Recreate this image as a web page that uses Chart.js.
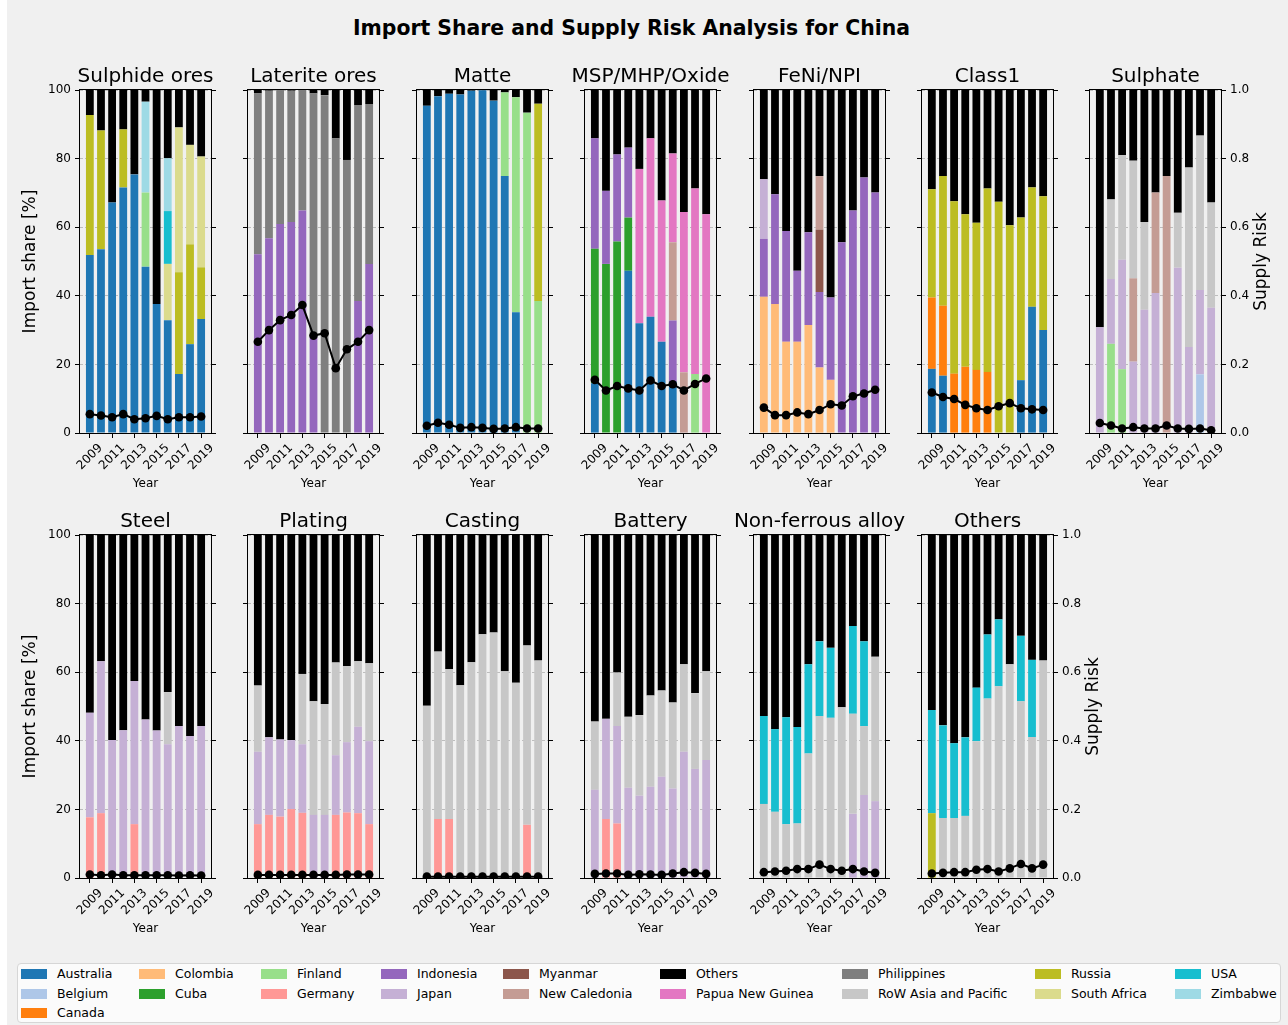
<!DOCTYPE html>
<html>
<head>
<meta charset="utf-8">
<script src="https://cdn.jsdelivr.net/npm/chart.js@4.4.1/dist/chart.umd.min.js"></script>
<style>
  html, body { margin: 0; padding: 0; background: #ffffff; }
  body { width: 1288px; height: 1025px; position: relative; overflow: hidden; font-family: "DejaVu Sans", sans-serif; }
  #figure { position: absolute; left: 7px; top: 0; width: 1281px; height: 1025px; background: #f0f0f0; }
  #suptitle { position: absolute; left: 0; width: 1263px; top: 16px; line-height: 24px; text-align: center;
              font-weight: bold; font-size: 20.4px; color: #000; }
  canvas.panel { position: absolute; }
  #legend { position: absolute; left: 17px; top: 963px; width: 1264px; height: 60px; box-sizing: border-box;
            background: #fbfbfb; border: 1px solid #d6d6d6; border-radius: 4px; }
  .item { position: absolute; height: 16px; line-height: 16px; font-size: 12.5px; color: #000; white-space: nowrap; }
  .swatch { position: absolute; left: 0; top: 3px; width: 26px; height: 10px; }
  .item span.t { position: absolute; left: 36px; top: 0; }
</style>
</head>
<body>
<div id="figure"></div>
<div id="suptitle">Import Share and Supply Risk Analysis for China</div>
<div id="legend"></div>

<script>
// ---- years and tick labels ----
const years = [2009, 2010, 2011, 2012, 2013, 2014, 2015, 2016, 2017, 2018, 2019];
const yearTicks = [2009, 2011, 2013, 2015, 2017, 2019];

// ---- supplier countries (stacking order) and colours ----
const countries = ['Australia', 'Belgium', 'Canada', 'Colombia', 'Cuba', 'Finland', 'Germany', 'Indonesia',
  'Japan', 'Myanmar', 'New Caledonia', 'Papua New Guinea', 'Philippines', 'RoW Asia and Pacific',
  'Russia', 'South Africa', 'USA', 'Zimbabwe', 'Others'];
const countryColors = ['#1f77b4', '#aec7e8', '#ff7f0e', '#ffbb78', '#2ca02c', '#98df8a', '#ff9896', '#9467bd',
  '#c5b0d5', '#8c564b', '#c49c94', '#e377c2', '#7f7f7f', '#c7c7c7',
  '#bcbd22', '#dbdb8d', '#17becf', '#9edae5', '#000000'];

// ---- import shares [%] per product, per supplier ----
const sulphideOresShares = {
  'Australia':    [51.9, 53.6, 67.2, 71.6, 75.4, 48.5, 37.6, 32.9, 17.2, 25.9, 33.2],
  'Finland':      [0, 0, 0, 0, 0, 21.6, 0, 0, 0, 0, 0],
  'Russia':       [40.8, 34.6, 0, 16.9, 0, 0, 0, 0, 29.7, 29.1, 15.1],
  'South Africa': [0, 0, 0, 0, 0, 0, 0, 16.4, 42.2, 29.0, 32.3],
  'USA':          [0, 0, 0, 0, 0, 0, 0, 15.4, 0, 0, 0],
  'Zimbabwe':     [0, 0, 0, 0, 0, 26.5, 0, 15.4, 0, 0, 0],
  'Others':       [7.3, 11.8, 32.8, 11.5, 24.6, 3.4, 62.4, 19.9, 10.9, 16.0, 19.4]
};
const sulphideOresRisk = [0.055, 0.051, 0.046, 0.055, 0.040, 0.043, 0.050, 0.040, 0.046, 0.046, 0.048];

const lateriteOresShares = {
  'Indonesia':    [52.1, 56.8, 60.9, 61.5, 64.9, 28.0, 0, 0, 0, 38.5, 49.3],
  'Philippines':  [46.9, 43.0, 39.1, 38.3, 35.1, 71.0, 98.5, 85.9, 79.6, 57.1, 46.6],
  'Others':       [1.0, 0.2, 0, 0.2, 0, 1.0, 1.5, 14.1, 20.4, 4.4, 4.1]
};
const lateriteOresRisk = [0.266, 0.300, 0.329, 0.344, 0.373, 0.284, 0.291, 0.189, 0.244, 0.266, 0.300];

const matteShares = {
  'Australia':    [95.4, 98.2, 98.9, 98.7, 99.8, 99.9, 96.9, 74.9, 35.2, 0, 0],
  'Finland':      [0, 0, 0, 0, 0, 0, 0, 24.4, 62.7, 93.4, 38.5],
  'Russia':       [0, 0, 0, 0, 0, 0, 0, 0, 0, 0, 57.5],
  'Others':       [4.6, 1.8, 1.1, 1.3, 0.2, 0.1, 3.1, 0.7, 2.1, 6.6, 4.0]
};
const matteRisk = [0.021, 0.030, 0.024, 0.015, 0.017, 0.015, 0.012, 0.013, 0.017, 0.013, 0.013];

const mspShares = {
  'Australia':        [14.5, 0, 0, 47.3, 32.0, 33.9, 26.6, 15.0, 0, 0, 0],
  'Cuba':             [39.2, 49.3, 55.8, 15.5, 0, 0, 0, 0, 0, 0, 0],
  'Finland':          [0, 0, 0, 0, 0, 0, 0, 0, 0, 17.2, 0],
  'Indonesia':        [32.2, 21.3, 25.4, 20.4, 0, 0, 0, 17.8, 0, 0, 0],
  'New Caledonia':    [0, 0, 0, 0, 0, 0, 0, 22.8, 17.7, 0, 0],
  'Papua New Guinea': [0, 0, 0, 0, 45.0, 52.0, 41.2, 25.9, 46.7, 54.1, 63.8],
  'Others':           [14.1, 29.4, 18.8, 16.8, 23.0, 14.1, 32.2, 18.5, 35.6, 28.7, 36.2]
};
const mspRisk = [0.155, 0.124, 0.137, 0.130, 0.124, 0.153, 0.137, 0.142, 0.124, 0.143, 0.159];

const feniShares = {
  'Colombia':      [39.7, 37.6, 26.6, 26.6, 31.5, 19.1, 15.5, 0, 0, 0, 0],
  'Indonesia':     [16.9, 32.0, 32.3, 20.7, 27.0, 22.0, 24.0, 55.6, 64.9, 74.5, 70.1],
  'Japan':         [17.4, 0, 0, 0, 0, 0, 0, 0, 0, 0, 0],
  'Myanmar':       [0, 0, 0, 0, 0, 18.2, 0, 0, 0, 0, 0],
  'New Caledonia': [0, 0, 0, 0, 0, 15.6, 0, 0, 0, 0, 0],
  'Others':        [26.0, 30.4, 41.1, 52.7, 41.5, 25.1, 60.5, 44.4, 35.1, 25.5, 29.9]
};
const feniRisk = [0.074, 0.052, 0.052, 0.060, 0.055, 0.067, 0.084, 0.080, 0.107, 0.115, 0.126];

const class1Shares = {
  'Australia': [18.7, 16.7, 0, 0, 0, 0, 0, 0, 15.4, 36.8, 30.0],
  'Canada':    [20.8, 20.4, 17.3, 19.3, 18.4, 17.8, 0, 0, 0, 0, 0],
  'Russia':    [31.6, 37.8, 50.3, 44.5, 42.9, 53.5, 67.4, 60.6, 47.4, 34.8, 39.0],
  'Others':    [28.9, 25.1, 32.4, 36.2, 38.7, 28.7, 32.6, 39.4, 37.2, 28.4, 31.0]
};
const class1Risk = [0.118, 0.105, 0.099, 0.082, 0.072, 0.067, 0.078, 0.087, 0.072, 0.069, 0.067];

const sulphateShares = {
  'Belgium':              [0, 0, 0, 0, 0, 0, 0, 0, 0, 17.1, 0],
  'Finland':              [0, 26.0, 18.6, 0, 0, 0, 0, 0, 0, 0, 0],
  'Japan':                [30.8, 18.9, 31.9, 20.8, 35.9, 40.8, 0, 48.2, 25.1, 24.6, 36.5],
  'New Caledonia':        [0, 0, 0, 24.3, 0, 29.3, 74.9, 0, 0, 0, 0],
  'RoW Asia and Pacific': [0, 23.2, 30.5, 34.3, 25.6, 0, 0, 16.0, 52.3, 45.0, 30.7],
  'Others':               [69.2, 31.9, 19.0, 20.6, 38.5, 29.9, 25.1, 35.8, 22.6, 13.3, 32.8]
};
const sulphateRisk = [0.029, 0.022, 0.013, 0.017, 0.013, 0.013, 0.022, 0.013, 0.012, 0.013, 0.008];

const steelShares = {
  'Germany':              [17.7, 18.9, 0, 0, 15.7, 0, 0, 0, 0, 0, 0],
  'Japan':                [30.5, 44.3, 40.2, 43.1, 41.7, 46.2, 43.0, 39.0, 44.3, 41.4, 44.3],
  'RoW Asia and Pacific': [0, 0, 0, 0, 0, 0, 0, 15.2, 0, 0, 0],
  'Others':               [51.8, 36.8, 59.8, 56.9, 42.6, 53.8, 57.0, 45.8, 55.7, 58.6, 55.7]
};
const steelRisk = [0.010, 0.008, 0.010, 0.008, 0.008, 0.008, 0.008, 0.008, 0.007, 0.008, 0.007];

const platingShares = {
  'Germany':              [15.7, 18.4, 17.9, 20.1, 19.0, 0, 0, 18.4, 19.1, 18.9, 15.7],
  'Japan':                [21.1, 22.6, 22.5, 20.1, 20.0, 18.4, 18.4, 17.4, 20.5, 25.2, 24.2],
  'RoW Asia and Pacific': [19.3, 0, 0, 0, 20.5, 33.1, 32.3, 27.0, 22.2, 19.1, 22.7],
  'Others':               [43.9, 59.0, 59.6, 59.8, 40.5, 48.5, 49.3, 37.2, 38.2, 36.8, 37.4]
};
const platingRisk = [0.009, 0.009, 0.009, 0.009, 0.009, 0.009, 0.009, 0.009, 0.010, 0.010, 0.010];

const castingShares = {
  'Germany':              [0, 17.2, 17.2, 0, 0, 0, 0, 0, 0, 15.5, 0],
  'RoW Asia and Pacific': [50.2, 48.8, 43.7, 56.2, 62.9, 71.1, 71.6, 60.3, 56.9, 52.3, 63.4],
  'Others':               [49.8, 34.0, 39.1, 43.8, 37.1, 28.9, 28.4, 39.7, 43.1, 32.2, 36.6]
};
const castingRisk = [0.004, 0.004, 0.004, 0.004, 0.004, 0.004, 0.004, 0.004, 0.004, 0.004, 0.004];

const batteryShares = {
  'Germany':              [0, 17.2, 15.9, 0, 0, 0, 0, 0, 0, 0, 0],
  'Japan':                [25.7, 29.2, 28.4, 26.3, 24.0, 26.6, 29.5, 26.1, 36.8, 31.8, 34.4],
  'RoW Asia and Pacific': [19.9, 0, 15.6, 20.7, 23.5, 26.6, 25.2, 25.1, 25.5, 22.1, 25.9],
  'Others':               [54.4, 53.6, 40.1, 53.0, 52.5, 46.8, 45.3, 48.8, 37.7, 46.1, 39.7]
};
const batteryRisk = [0.012, 0.013, 0.013, 0.009, 0.011, 0.010, 0.009, 0.013, 0.017, 0.015, 0.012];

const nonFerrousShares = {
  'Japan':                [0, 0, 0, 0, 0, 0, 0, 0, 18.7, 24.2, 22.4],
  'RoW Asia and Pacific': [21.6, 19.3, 15.7, 15.9, 36.3, 47.2, 46.7, 49.8, 29.2, 20.1, 42.1],
  'USA':                  [25.6, 24.1, 31.2, 28.1, 26.0, 21.8, 20.4, 0, 25.6, 24.7, 0],
  'Others':               [52.8, 56.6, 53.1, 56.0, 37.7, 31.0, 32.9, 50.2, 26.5, 31.0, 35.5]
};
const nonFerrousRisk = [0.017, 0.019, 0.021, 0.026, 0.026, 0.039, 0.026, 0.021, 0.026, 0.019, 0.015];

const otherUsesShares = {
  'Russia':               [18.9, 0, 0, 0, 0, 0, 0, 0, 0, 0, 0],
  'RoW Asia and Pacific': [0, 17.5, 17.5, 18.1, 39.9, 52.3, 55.9, 62.3, 51.5, 41.1, 63.4],
  'USA':                  [30.1, 27.0, 21.8, 22.9, 15.6, 18.7, 19.5, 0, 19.1, 22.5, 0],
  'Others':               [51.0, 55.5, 60.7, 59.0, 44.5, 29.0, 24.6, 37.7, 29.4, 36.4, 36.6]
};
const otherUsesRisk = [0.013, 0.015, 0.017, 0.017, 0.024, 0.026, 0.019, 0.028, 0.041, 0.028, 0.039];

// ---- panel titles ----
const panelTitles = ['Sulphide ores', 'Laterite ores', 'Matte', 'MSP/MHP/Oxide', 'FeNi/NPI', 'Class1', 'Sulphate',
  'Steel', 'Plating', 'Casting', 'Battery', 'Non-ferrous alloy', 'Others'];
const panelShares = [sulphideOresShares, lateriteOresShares, matteShares, mspShares, feniShares, class1Shares,
  sulphateShares, steelShares, platingShares, castingShares, batteryShares, nonFerrousShares, otherUsesShares];
const panelRisks = [sulphideOresRisk, lateriteOresRisk, matteRisk, mspRisk, feniRisk, class1Risk, sulphateRisk,
  steelRisk, platingRisk, castingRisk, batteryRisk, nonFerrousRisk, otherUsesRisk];

// ---- layout ----
const FONT = '"DejaVu Sans", sans-serif';
const axLefts = [80, 248, 417, 585, 754, 922, 1090];
const axTops = [90, 535];
const AX_W = 131, AX_H = 343;
const PAD_L = 80, PAD_R = 60, PAD_T = 40, PAD_B = 65;
const BAR_W = 0.7;                       // bar width in category units
const X_MARGIN = 0.05 * (10 + BAR_W);    // 5% padding around the bars
const xMin = years[0] - BAR_W / 2 - X_MARGIN;
const xMax = years[years.length - 1] + BAR_W / 2 + X_MARGIN;

function decorPlugin(title, leftTitle, rightTitle) {
  return {
    id: 'decor',
    afterDatasetsDraw(chart) {
      const { ctx, chartArea: a } = chart;
      ctx.save();
      ctx.strokeStyle = '#000';
      ctx.lineWidth = 1;
      ctx.strokeRect(a.left - 0.5, a.top - 0.5, a.right - a.left + 1, a.bottom - a.top + 1);
      ctx.restore();
    },
    afterDraw(chart) {
      const { ctx, chartArea: a } = chart;
      const midX = (a.left + a.right) / 2;
      const midY = (a.top + a.bottom) / 2;
      ctx.save();
      ctx.fillStyle = '#000';
      // panel title
      ctx.font = '20px ' + FONT;
      ctx.textAlign = 'center';
      ctx.textBaseline = 'alphabetic';
      ctx.fillText(title, midX, a.top - 8);
      // rotated year labels
      ctx.font = '12px ' + FONT;
      ctx.textBaseline = 'middle';
      const xs = chart.scales.x;
      yearTicks.forEach(v => {
        ctx.save();
        ctx.translate(xs.getPixelForValue(v), a.bottom + 24);
        ctx.rotate(-Math.PI / 4);
        ctx.fillText(String(v), 0, 0);
        ctx.restore();
      });
      ctx.fillText('Year', midX, a.bottom + 51);
      // axis titles
      ctx.font = '17px ' + FONT;
      if (leftTitle) {
        ctx.save();
        ctx.translate(a.left - 49, midY);
        ctx.rotate(-Math.PI / 2);
        ctx.fillText(leftTitle, 0, 0);
        ctx.restore();
      }
      if (rightTitle) {
        ctx.save();
        ctx.translate(a.right + 41, midY);
        ctx.rotate(-Math.PI / 2);
        ctx.fillText(rightTitle, 0, 0);
        ctx.restore();
      }
      ctx.restore();
    }
  };
}

function buildPanel(p) {
  const row = p < 7 ? 0 : 1;
  const col = p < 7 ? p : p - 7;
  const isFirst = col === 0;
  const isLast = (p === 6 || p === 12);
  const canvas = document.createElement('canvas');
  canvas.className = 'panel';
  canvas.width = PAD_L + AX_W + PAD_R;
  canvas.height = PAD_T + AX_H + PAD_B;
  canvas.style.left = (axLefts[col] - PAD_L) + 'px';
  canvas.style.top = (axTops[row] - PAD_T) + 'px';
  document.body.appendChild(canvas);

  const shares = panelShares[p];
  const datasets = [];
  countries.forEach((c, ci) => {
    if (!shares[c]) return;
    datasets.push({
      type: 'bar', label: c,
      data: years.map((y, i) => ({ x: y, y: shares[c][i] })),
      backgroundColor: countryColors[ci], borderWidth: 0,
      yAxisID: 'y', order: 1, barPercentage: BAR_W, categoryPercentage: 1.0
    });
  });
  datasets.push({
    type: 'line', label: 'Supply risk',
    data: years.map((y, i) => ({ x: y, y: panelRisks[p][i] })),
    yAxisID: 'y2', order: 0, borderColor: '#000', borderWidth: 2, clip: 0,
    pointRadius: 4.3, pointBackgroundColor: '#000', pointBorderWidth: 0, tension: 0
  });

  const tickFont = { family: FONT, size: 12 };
  new Chart(canvas, {
    data: { datasets },
    options: {
      responsive: false, animation: false, devicePixelRatio: 1, events: [],
      layout: { padding: { top: PAD_T, left: 0, right: 0, bottom: 0 } },
      plugins: { legend: { display: false }, tooltip: { enabled: false }, title: { display: false } },
      scales: {
        x: {
          type: 'linear', min: xMin, max: xMax, offset: false, stacked: true,
          afterBuildTicks: s => { s.ticks = yearTicks.map(v => ({ value: v })); },
          ticks: { display: false },
          grid: { drawOnChartArea: false, drawTicks: true, tickLength: 5, tickColor: '#000', tickWidth: 1, offset: false },
          border: { display: false },
          afterFit: s => { s.height = PAD_B; }
        },
        y: {
          type: 'linear', position: 'left', min: 0, max: 100, stacked: true,
          ticks: { stepSize: 20, display: isFirst, font: tickFont, color: '#000', padding: 4 },
          grid: { color: '#b0b0b0', lineWidth: 0.8, tickLength: 5, tickColor: '#000', tickWidth: 1 },
          border: { display: false, dash: [3, 2] },
          afterFit: s => { s.width = PAD_L; }
        },
        y2: {
          type: 'linear', position: 'right', min: 0, max: 1,
          ticks: { stepSize: 0.2, display: isLast, font: tickFont, color: '#000', padding: 4,
                   callback: v => v.toFixed(1) },
          grid: { drawOnChartArea: false, tickLength: 5, tickColor: '#000', tickWidth: 1 },
          border: { display: false },
          afterFit: s => { s.width = PAD_R; }
        }
      }
    },
    plugins: [decorPlugin(panelTitles[p], isFirst ? 'Import share [%]' : null, isLast ? 'Supply Risk' : null)]
  });
}

for (let p = 0; p < panelTitles.length; p++) buildPanel(p);

// ---- legend (column-wise, three rows) ----
const legendCols = [57, 175, 297, 417, 539, 696, 878, 1071, 1211];
const legendRows = [974, 993.5, 1012.5];
const legendEl = document.getElementById('legend');
const perCol = [3, 2, 2, 2, 2, 2, 2, 2, 2];
const legendOrder = ['Australia', 'Belgium', 'Canada', 'Colombia', 'Cuba', 'Finland', 'Germany', 'Indonesia', 'Japan',
  'Myanmar', 'New Caledonia', 'Others', 'Papua New Guinea', 'Philippines', 'RoW Asia and Pacific',
  'Russia', 'South Africa', 'USA', 'Zimbabwe'];
let k = 0;
perCol.forEach((n, ci) => {
  for (let r = 0; r < n; r++) {
    const name = legendOrder[k++];
    const item = document.createElement('div');
    item.className = 'item';
    item.style.left = (legendCols[ci] - 36 - 17 - 1) + 'px';
    item.style.top = (legendRows[r] - 8 - 963 - 1) + 'px';
    const sw = document.createElement('div');
    sw.className = 'swatch';
    sw.style.background = countryColors[countries.indexOf(name)];
    const t = document.createElement('span');
    t.className = 't';
    t.textContent = name;
    item.appendChild(sw);
    item.appendChild(t);
    legendEl.appendChild(item);
  }
});
</script>
</body>
</html>
